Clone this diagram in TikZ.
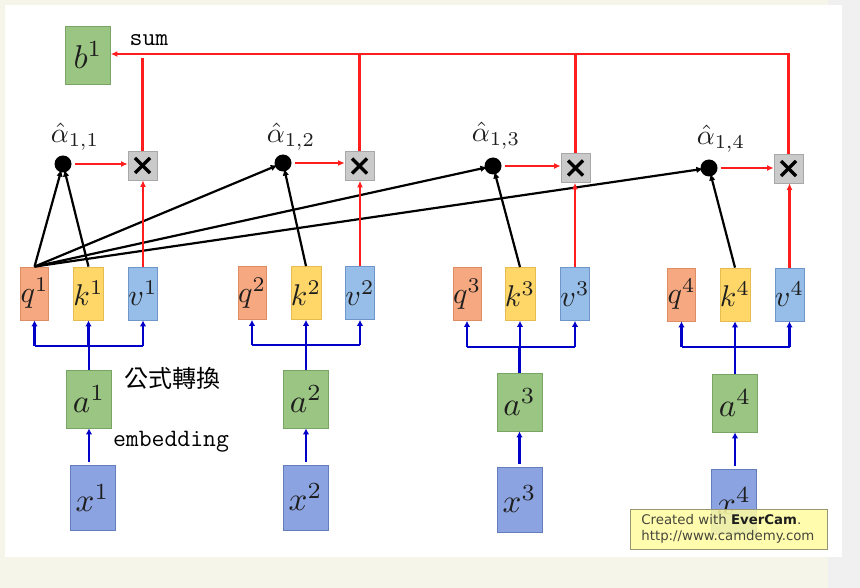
\documentclass[tikz,border=0pt]{standalone}
\usepackage{graphicx}
\usepackage{fontspec}
\newfontfamily\cjkfont{Noto Sans CJK TC}
\newfontfamily\wmfont{DejaVu Sans}
\usetikzlibrary{arrows.meta}
\newcommand{\boxmath}[1]{\scalebox{3.0}{$#1$}}
\newcommand{\bigboxmath}[1]{\scalebox{3.3}{$#1$}}
\newcommand{\labmath}[1]{\scalebox{2.8}{$#1$}}
\definecolor{cream}{RGB}{246,245,233}
\definecolor{greyb}{RGB}{240,240,240}
\definecolor{gf}{RGB}{154,197,130}\definecolor{gd}{RGB}{120,165,100}
\definecolor{qf}{RGB}{246,168,128}\definecolor{qd}{RGB}{222,140,100}
\definecolor{kf}{RGB}{255,215,105}\definecolor{kd}{RGB}{230,188,80}
\definecolor{vf}{RGB}{150,190,232}\definecolor{vd}{RGB}{110,150,200}
\definecolor{xf}{RGB}{140,163,225}\definecolor{xd}{RGB}{100,125,190}
\definecolor{mf}{RGB}{202,202,202}\definecolor{md}{RGB}{168,168,168}
\definecolor{redl}{RGB}{255,30,30}
\definecolor{bluel}{RGB}{0,0,200}
\definecolor{txt}{RGB}{30,30,30}
\definecolor{wmt}{RGB}{70,70,60}
\definecolor{wmf}{RGB}{255,252,160}\definecolor{wmd}{RGB}{150,150,115}
\begin{document}
\begin{tikzpicture}[x=1pt,y=-1pt,
  cbox/.style={rectangle, line width=0.8pt, inner sep=0pt, text=txt},
  qbox/.style={cbox, draw=qd, fill=qf, minimum width=28pt, minimum height=53pt},
  kbox/.style={cbox, draw=kd, fill=kf, minimum width=28pt, minimum height=53pt},
  vbox/.style={cbox, draw=vd, fill=vf, minimum width=28pt, minimum height=53pt},
  abox/.style={cbox, draw=gd, fill=gf, minimum width=45pt, minimum height=58pt},
  xbox/.style={cbox, draw=xd, fill=xf, minimum width=45pt, minimum height=65pt},
  mult/.style={rectangle, draw=md, fill=mf, line width=0.8pt, minimum size=29pt, inner sep=0pt,
    path picture={
      \draw[line width=3.4pt, black]
        ([shift={(-7.5pt,-7.5pt)}]path picture bounding box.center) --
        ([shift={(7.5pt,7.5pt)}]path picture bounding box.center);
      \draw[line width=3.4pt, black]
        ([shift={(-7.5pt,7.5pt)}]path picture bounding box.center) --
        ([shift={(7.5pt,-7.5pt)}]path picture bounding box.center);}},
  dotn/.style={circle, fill=black, minimum size=17pt, inner sep=0pt},
  alab/.style={inner sep=0pt, text=txt},
  tlab/.style={inner sep=0pt, text=black, font=\ttfamily\fontsize{25}{28}\selectfont},
  blk/.style={line width=2.2pt, black, -{Latex[length=7pt,width=6.5pt]}, shorten >=-3pt},
  redarr/.style={line width=2.2pt, redl, -{Latex[length=6.5pt,width=6pt]}},
  redln/.style={line width=2.2pt, redl},
  bluarr/.style={line width=2.8pt, bluel, -{Latex[length=6pt,width=6.5pt]}},
  bluln/.style={line width=2.8pt, bluel},
]
\useasboundingbox (0,0) rectangle (860,588);
% background
\fill[cream] (0,0) rectangle (860,588);
\fill[greyb] (828,0) rectangle (860,588);
\fill[white] (5,5) rectangle (842,557);

% top output
\node[abox] (b1) at (88,55.5) {\bigboxmath{b^1}};
\node[tlab] (sum) at (149,40) {sum};

% multiply boxes
\node[mult] (m1) at (142.5,165.5) {};
\node[mult] (m2) at (359.5,166) {};
\node[mult] (m3) at (575.5,168) {};
\node[mult] (m4) at (788.5,168.5) {};

% attention dots
\node[dotn] (d1) at (63,164) {};
\node[dotn] (d2) at (283,163) {};
\node[dotn] (d3) at (493,166) {};
\node[dotn] (d4) at (709,168) {};
\node[alab] (l1) at (75,137) {\labmath{\hat{\alpha}_{1,1}}};
\node[alab] (l2) at (291,137) {\labmath{\hat{\alpha}_{1,2}}};
\node[alab] (l3) at (496,136) {\labmath{\hat{\alpha}_{1,3}}};
\node[alab] (l4) at (721,139) {\labmath{\hat{\alpha}_{1,4}}};

% q k v
\node[qbox] (q1) at (34.5,293.5) {\boxmath{q^1}};
\node[kbox] (k1) at (88.5,293.5) {\boxmath{k^1}};
\node[vbox] (v1) at (143,293.5) {\boxmath{v^1}};
\node[qbox] (q2) at (252,293) {\boxmath{q^2}};
\node[kbox] (k2) at (306,293) {\boxmath{k^2}};
\node[vbox] (v2) at (360,293) {\boxmath{v^2}};
\node[qbox] (q3) at (467,294) {\boxmath{q^3}};
\node[kbox] (k3) at (520,294) {\boxmath{k^3}};
\node[vbox] (v3) at (575,294) {\boxmath{v^3}};
\node[qbox] (q4) at (681.5,294.5) {\boxmath{q^4}};
\node[kbox] (k4) at (735,294.5) {\boxmath{k^4}};
\node[vbox] (v4) at (789.5,294.5) {\boxmath{v^4}};

% a and x
\node[abox] (a1) at (89,399) {\bigboxmath{a^1}};
\node[abox] (a2) at (306,399) {\bigboxmath{a^2}};
\node[abox] (a3) at (519.5,402) {\bigboxmath{a^3}};
\node[abox] (a4) at (735,403) {\bigboxmath{a^4}};
\node[xbox] (x1) at (92.5,498) {\bigboxmath{x^1}};
\node[xbox] (x2) at (305.5,497.5) {\bigboxmath{x^2}};
\node[xbox] (x3) at (519.5,499.5) {\bigboxmath{x^3}};
\node[xbox] (x4) at (734,501.5) {\bigboxmath{x^4}};

\node[inner sep=0pt, font=\cjkfont\fontsize{24}{26}\selectfont] (t1) at (172,378) {公式轉換};
\node[tlab] (t2) at (171,442) {embedding};

% blue connectors
\foreach \i/\y in {1/346,2/345,3/347,4/347}{
  \coordinate (j\i) at (0,\y);
  \draw[bluln] (a\i.north) -- (a\i.north |- j\i);
  \draw[bluln] (q\i.south |- j\i) -- (v\i.south |- j\i);
  \draw[bluarr] (q\i.south |- j\i) -- (q\i.south);
  \draw[bluarr] (k\i.south |- j\i) -- (k\i.south);
  \draw[bluarr] (v\i.south |- j\i) -- (v\i.south);
  \draw[bluarr] ([yshift=3pt]a\i.south |- x\i.north) -- (a\i.south);
}

% black attention connectors
\draw[blk] (q1.north) -- (d1);
\draw[blk] (k1.north) -- (d1);
\draw[blk] (q1.north) -- (d2);
\draw[blk] (q1.north) -- (d3);
\draw[blk] (q1.north) -- (d4);
\draw[blk] (k2.north) -- (d2);
\draw[blk] (k3.north) -- (d3);
\draw[blk] (k4.north) -- (d4);

% red connectors
\foreach \i in {1,2,3,4}{
  \draw[redarr, shorten <=3pt] (d\i) -- (m\i.west |- d\i);
  \draw[redarr] (v\i.north) -- (m\i.south -| v\i.north);
}
\coordinate (top) at (0,54);
\draw[redln] (m1.north) -- (m1.north |- 0,58);
\draw[redln] (m2.north) -- (m2.north |- top);
\draw[redln] (m3.north) -- (m3.north |- top);
\draw[redarr] (m4.north) -- (m4.north |- top) -- (b1.east |- top);

% watermark
\node[anchor=west, draw=wmd, line width=0.8pt, fill=wmf, fill opacity=0.85, text opacity=1,
  text width=175pt, inner xsep=11pt, inner ysep=4pt, minimum height=40pt, align=left,
  text=wmt, font=\wmfont\fontsize{13.3}{16}\selectfont] (wm) at (630,529)
  {Created with \textbf{\color{txt}EverCam}.\\http://www.camdemy.com};
\end{tikzpicture}
\end{document}
